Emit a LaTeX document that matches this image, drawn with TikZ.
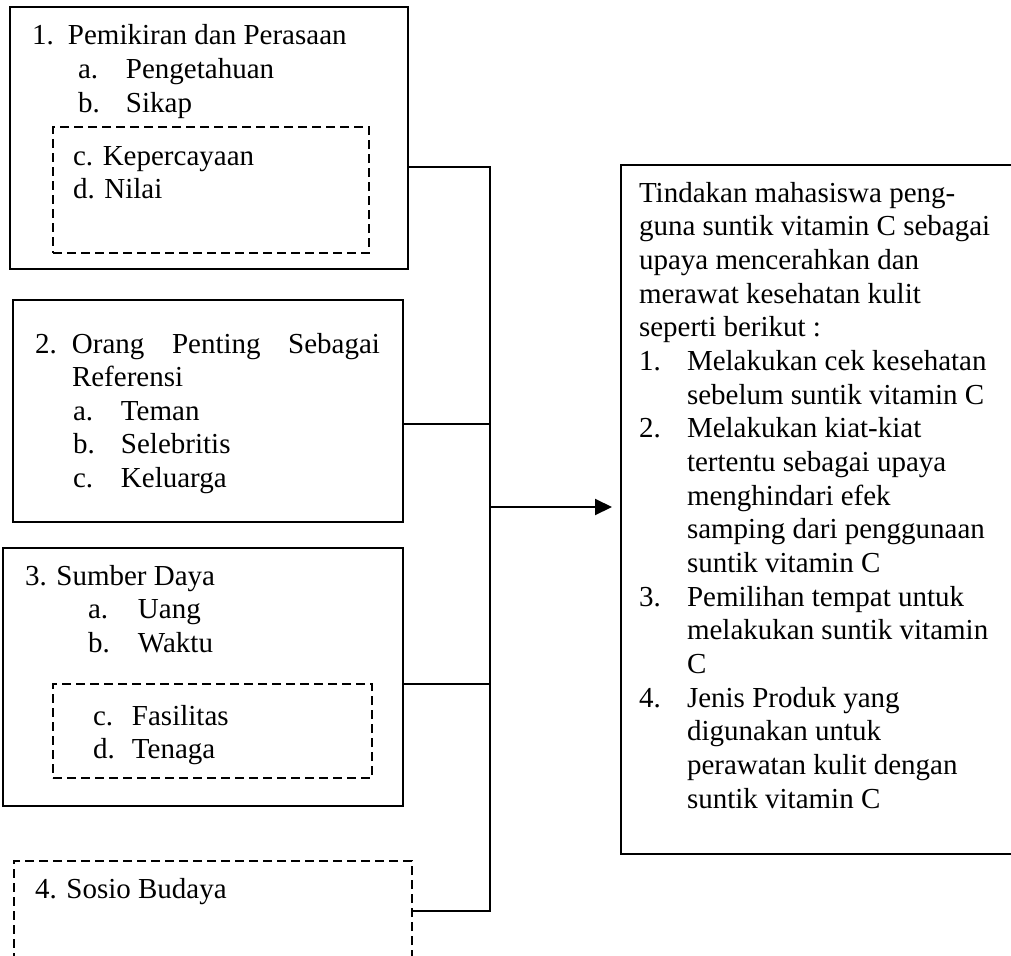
\documentclass[tikz,border=0pt]{standalone}
\usepackage{fontspec}
\setmainfont{Liberation Serif}
\usetikzlibrary{arrows.meta}
\newcommand\Lin[1]{\hbox{#1}}
\begin{document}
\begin{tikzpicture}[x=1pt,y=-1pt,
  box/.style={draw=black,line width=2pt,inner sep=0pt,outer sep=0pt,anchor=north west},
  dbox/.style={draw=black,line width=1.6pt,dash pattern=on 9pt off 5pt,inner sep=0pt,outer sep=0pt,anchor=north west},
  txt/.style={inner sep=0pt,outer sep=0pt,anchor=base west,font=\fontsize{29}{33.6}\selectfont},
  conn/.style={draw=black,line width=2pt},
  arr/.style={conn,-{Triangle[length=17pt,width=16pt]}}]
\fill[white] (0,0) rectangle (1011,955);
\useasboundingbox (0,0) rectangle (1011,955);
\clip (0,0) rectangle (1011,955);
% boxes
\node[box,minimum width=398pt,minimum height=262pt] (b1) at (10,7) {};
\node[dbox,minimum width=316pt,minimum height=126pt] (d1) at (53,127) {};
\node[box,minimum width=390pt,minimum height=222pt] (b2) at (13,300) {};
\node[box,minimum width=400pt,minimum height=258pt] (b3) at (3,548) {};
\node[dbox,minimum width=319pt,minimum height=94pt] (d3) at (53,684) {};
\node[dbox,minimum width=398pt,minimum height=120pt] (b4) at (14,861) {};
\node[box,minimum width=420pt,minimum height=689pt] (r) at (621,165) {};
% texts
\node[txt] (t1) at (32,45) {\vtop{%
  \Lin{\makebox[36pt][l]{1.}Pemikiran dan Perasaan}
  \Lin{\hspace{46pt}\makebox[48pt][l]{a.}Pengetahuan}
  \Lin{\hspace{46pt}\makebox[48pt][l]{b.}Sikap}}};
\node[txt] (t1d) at (73,165) {\vtop{%
  \Lin{c. Kepercayaan}
  \Lin{d. Nilai}}};
\node[txt] (t2) at (35,353) {\vtop{%
  \hbox to 345pt{\makebox[37pt][l]{2.}Orang\hfill Penting\hfill Sebagai}
  \Lin{\hspace{37pt}Referensi}
  \Lin{\hspace{38pt}\makebox[48pt][l]{a.}Teman}
  \Lin{\hspace{38pt}\makebox[48pt][l]{b.}Selebritis}
  \Lin{\hspace{38pt}\makebox[48pt][l]{c.}Keluarga}}};
\node[txt] (t3) at (25,585) {\vtop{%
  \Lin{3. Sumber Daya}
  \Lin{\hspace{63pt}\makebox[50pt][l]{a.}Uang}
  \Lin{\hspace{63pt}\makebox[50pt][l]{b.}Waktu}}};
\node[txt] (t3d) at (93,725) {\vtop{%
  \Lin{\makebox[39pt][l]{c.}Fasilitas}
  \Lin{\makebox[39pt][l]{d.}Tenaga}}};
\node[txt] (t4) at (35,898) {4. Sosio Budaya};
\node[txt,font=\fontsize{29}{33.67}\selectfont] (tr) at (639,202) {\vtop{%
  \Lin{Tindakan mahasiswa peng-}
  \Lin{guna suntik vitamin C sebagai}
  \Lin{upaya mencerahkan dan}
  \Lin{merawat kesehatan kulit}
  \Lin{seperti berikut :}
  \Lin{\makebox[48pt][l]{1.}Melakukan cek kesehatan}
  \Lin{\hspace{48pt}sebelum suntik vitamin C}
  \Lin{\makebox[48pt][l]{2.}Melakukan kiat-kiat}
  \Lin{\hspace{48pt}tertentu sebagai upaya}
  \Lin{\hspace{48pt}menghindari efek}
  \Lin{\hspace{48pt}samping dari penggunaan}
  \Lin{\hspace{48pt}suntik vitamin C}
  \Lin{\makebox[48pt][l]{3.}Pemilihan tempat untuk}
  \Lin{\hspace{48pt}melakukan suntik vitamin}
  \Lin{\hspace{48pt}C}
  \Lin{\makebox[48pt][l]{4.}Jenis Produk yang}
  \Lin{\hspace{48pt}digunakan untuk}
  \Lin{\hspace{48pt}perawatan kulit dengan}
  \Lin{\hspace{48pt}suntik vitamin C}}};
% connectors
\coordinate (j1) at (490,167);
\coordinate (j2) at (490,424);
\coordinate (j3) at (490,684);
\coordinate (j4) at (490,911);
\coordinate (ja) at (490,507);
\draw[conn] (b1.east |- j1) -- (j1) -- (j4) -- (b4.east |- j4);
\draw[conn] (b2.east |- j2) -- (j2);
\draw[conn] (b3.east |- j3) -- (j3);
\draw[arr] (ja) -- ([xshift=-9pt]r.west |- ja);
\end{tikzpicture}
\end{document}
